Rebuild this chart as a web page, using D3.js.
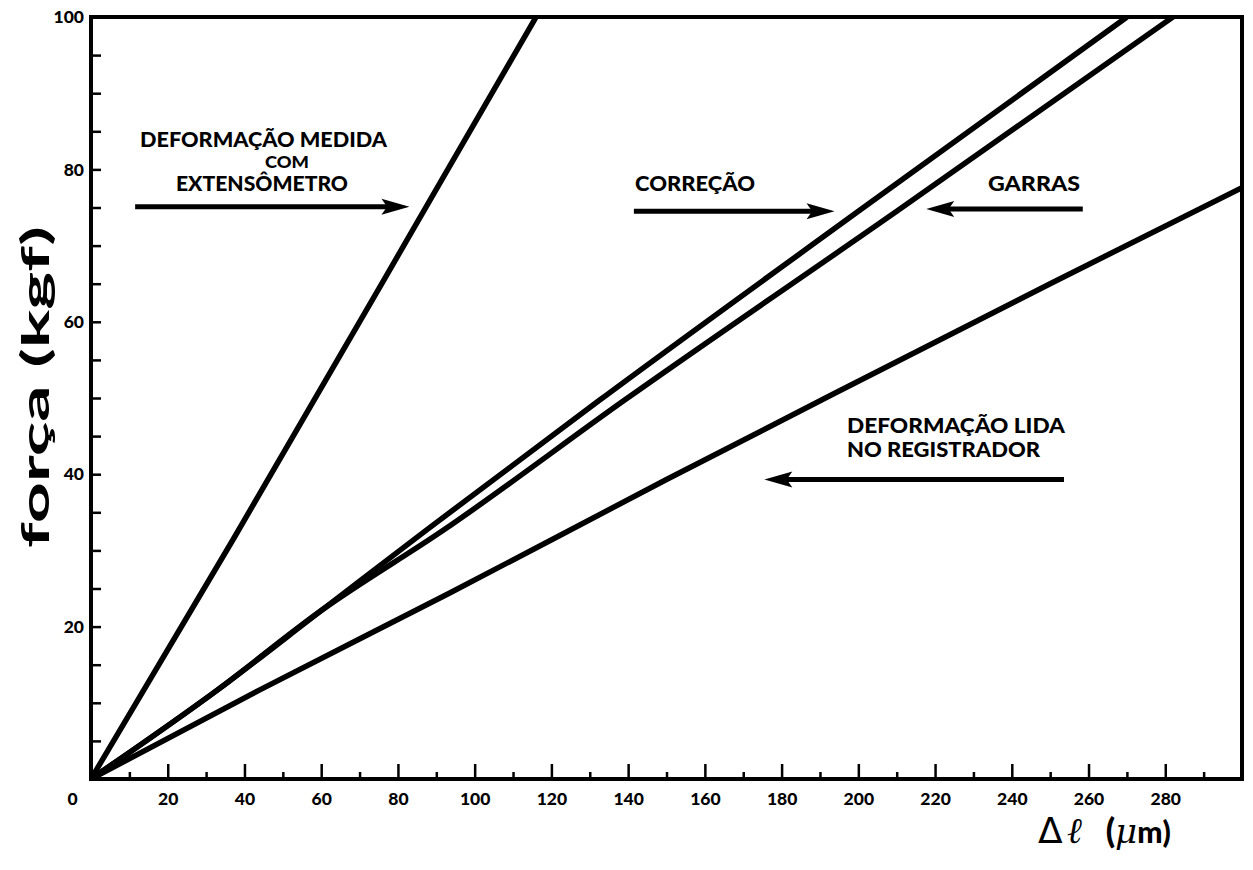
<!DOCTYPE html>
<html>
<head>
<meta charset="utf-8">
<script src="https://cdn.jsdelivr.net/npm/d3@7"></script>
<style>
  html, body { margin: 0; padding: 0; background: #fff; }
  svg { display: block; }
  text { fill: #000; }
</style>
</head>
<body>
<svg id="chart" width="1253" height="870"></svg>
<script>
// Força (kgf) versus alongamento Δℓ (μm)
const deltaTicks = [0, 20, 40, 60, 80, 100, 120, 140, 160, 180, 200, 220, 240, 260, 280];
const deltaMinorTicks = [10, 30, 50, 70, 90, 110, 130, 150, 170, 190, 210, 230, 250, 270, 290];
const forceTicks = [20, 40, 60, 80, 100];
const forceMinorTicks = [5, 10, 15, 25, 30, 35, 45, 50, 55, 65, 70, 75, 85, 90, 95];

// curves as [Δℓ (μm), força (kgf)]
const extensometro = [[0, 0], [37, 31.4], [93, 80], [116, 100]];
const correcao = [[0, 0], [33, 11.7], [60, 22.1], [87.5, 32.7], [132.5, 49.7], [200, 74.5], [270, 100]];
const garras = [[0, 0], [33, 11.7], [60, 22.1], [92, 32.7], [139, 49.7], [210, 74.5], [282, 100]];
const registrador = [[0, 0], [44, 11.7], [93.5, 24.4], [150, 39.3], [200, 52.2], [250, 65], [300, 77.6]];

const svg = d3.select("#chart");
const x = d3.scaleLinear().domain([0, 300]).range([91, 1242]);
const y = d3.scaleLinear().domain([0, 100]).range([779, 17]);

const FONT = "Lato, 'DejaVu Sans', sans-serif";

// clip region for the curves
svg.append("defs").append("clipPath").attr("id", "plot")
  .append("rect")
  .attr("x", x(0)).attr("y", y(100))
  .attr("width", x(300) - x(0)).attr("height", y(0) - y(100));

// minor ticks on the Δℓ axis
svg.append("g")
  .attr("transform", `translate(0,${y(0)})`)
  .call(d3.axisBottom(x).tickValues(deltaMinorTicks).tickSize(-7).tickFormat(""))
  .call(g => g.select(".domain").remove())
  .call(g => g.selectAll("line").attr("stroke", "#000").attr("stroke-width", 2.5));

// major ticks and labels on the Δℓ axis
svg.append("g")
  .attr("transform", `translate(0,${y(0)})`)
  .call(d3.axisBottom(x).tickValues(deltaTicks).tickSize(-15).tickPadding(14).tickFormat(d3.format("d")))
  .call(g => g.select(".domain").remove())
  .call(g => g.selectAll("line").attr("stroke", "#000").attr("stroke-width", 2.5)
    .filter(d => d === 0).remove())
  .call(g => g.selectAll("text")
    .attr("font-family", FONT).attr("font-weight", 900).attr("font-size", 17.5)
    .attr("fill", "#000")
    .attr("dx", d => d === 0 ? -19 : 0));

// ticks on the força axis
svg.append("g")
  .attr("transform", `translate(${x(0)},0)`)
  .call(d3.axisLeft(y).tickValues(forceMinorTicks).tickSize(-10).tickFormat(""))
  .call(g => g.select(".domain").remove())
  .call(g => g.selectAll("line").attr("stroke", "#000").attr("stroke-width", 2.5));

svg.append("g")
  .attr("transform", `translate(${x(0)},0)`)
  .call(d3.axisLeft(y).tickValues(forceTicks).tickSize(-10).tickPadding(7).tickFormat(d3.format("d")))
  .call(g => g.select(".domain").remove())
  .call(g => g.selectAll("line").attr("stroke", "#000").attr("stroke-width", 2.5))
  .call(g => g.selectAll("text")
    .attr("font-family", FONT).attr("font-weight", 900).attr("font-size", 17.5)
    .attr("fill", "#000"));

// frame
svg.append("rect")
  .attr("x", x(0)).attr("y", y(100))
  .attr("width", x(300) - x(0)).attr("height", y(0) - y(100))
  .attr("fill", "none").attr("stroke", "#000").attr("stroke-width", 4);

// curves
const line = d3.line().curve(d3.curveMonotoneX).x(d => x(d[0])).y(d => y(d[1]));
svg.append("g").attr("clip-path", "url(#plot)")
  .selectAll("path")
  .data([extensometro, correcao, garras, registrador])
  .join("path")
  .attr("d", line)
  .attr("fill", "none")
  .attr("stroke", "#000")
  .attr("stroke-width", 5.5)
  .attr("stroke-linejoin", "round");

// multi-line annotation: rows of [text, x, y, width, size]
function label(rows) {
  const t = svg.append("text")
    .attr("font-family", FONT).attr("font-weight", 900);
  rows.forEach(([txt, px, py, len, size]) => {
    t.append("tspan")
      .attr("x", px).attr("y", py)
      .attr("font-size", size || 21)
      .attr("textLength", len).attr("lengthAdjust", "spacingAndGlyphs")
      .text(txt);
  });
}
// horizontal arrow from fromV to toV (μm) at força level f
function arrow(fromV, toV, f) {
  const x0 = x(fromV), x1 = x(toV), yy = y(f);
  const dir = Math.sign(x1 - x0);
  const head = 28, half = 8;
  svg.append("line")
    .attr("x1", x0).attr("y1", yy).attr("x2", x1 - dir * head * 0.7).attr("y2", yy)
    .attr("stroke", "#000").attr("stroke-width", 5);
  svg.append("path")
    .attr("d", `M${x1},${yy} L${x1 - dir * head},${yy - half} L${x1 - dir * head * 0.8},${yy} L${x1 - dir * head},${yy + half} Z`)
    .attr("fill", "#000");
}

label([
  ["DEFORMAÇÃO MEDIDA", 140, 147, 247],
  ["COM", 265, 168, 44, 16],
  ["EXTENSÔMETRO", 176, 191, 172, 20]
]);
arrow(11.5, 83, 75.1);

label([["CORREÇÃO", 635, 191, 120]]);
arrow(141.5, 193.8, 74.5);

label([["GARRAS", 988, 191, 92]]);
arrow(258.5, 217.7, 74.8);

label([
  ["DEFORMAÇÃO  LIDA", 847, 433, 218],
  ["NO REGISTRADOR", 847, 457, 193]
]);
arrow(253.6, 175.5, 39.3);

// axis titles
svg.append("text")
  .attr("transform", `translate(49,387) rotate(-90)`)
  .attr("text-anchor", "middle")
  .attr("font-family", FONT).attr("font-weight", 700).attr("font-size", 38)
  .attr("textLength", 322).attr("lengthAdjust", "spacingAndGlyphs")
  .text("força (kgf)");

const xt = svg.append("text")
  .attr("x", 1038).attr("y", 843)
  .attr("font-family", "'DejaVu Serif', serif").attr("font-size", 36);
xt.append("tspan").attr("font-family", "'DejaVu Sans', sans-serif").attr("font-weight", 400).text("Δ");
xt.append("tspan").attr("dx", 4).attr("font-style", "italic").text("ℓ");
xt.append("tspan").attr("dx", 24).attr("font-family", FONT).attr("font-weight", 900).attr("font-size", 34).text("(");
xt.append("tspan").attr("font-style", "italic").attr("font-family", "'DejaVu Serif', serif").attr("font-size", 34).text("μ");
xt.append("tspan").attr("font-family", FONT).attr("font-weight", 900).attr("font-size", 30).text("m)");
</script>
</body>
</html>
